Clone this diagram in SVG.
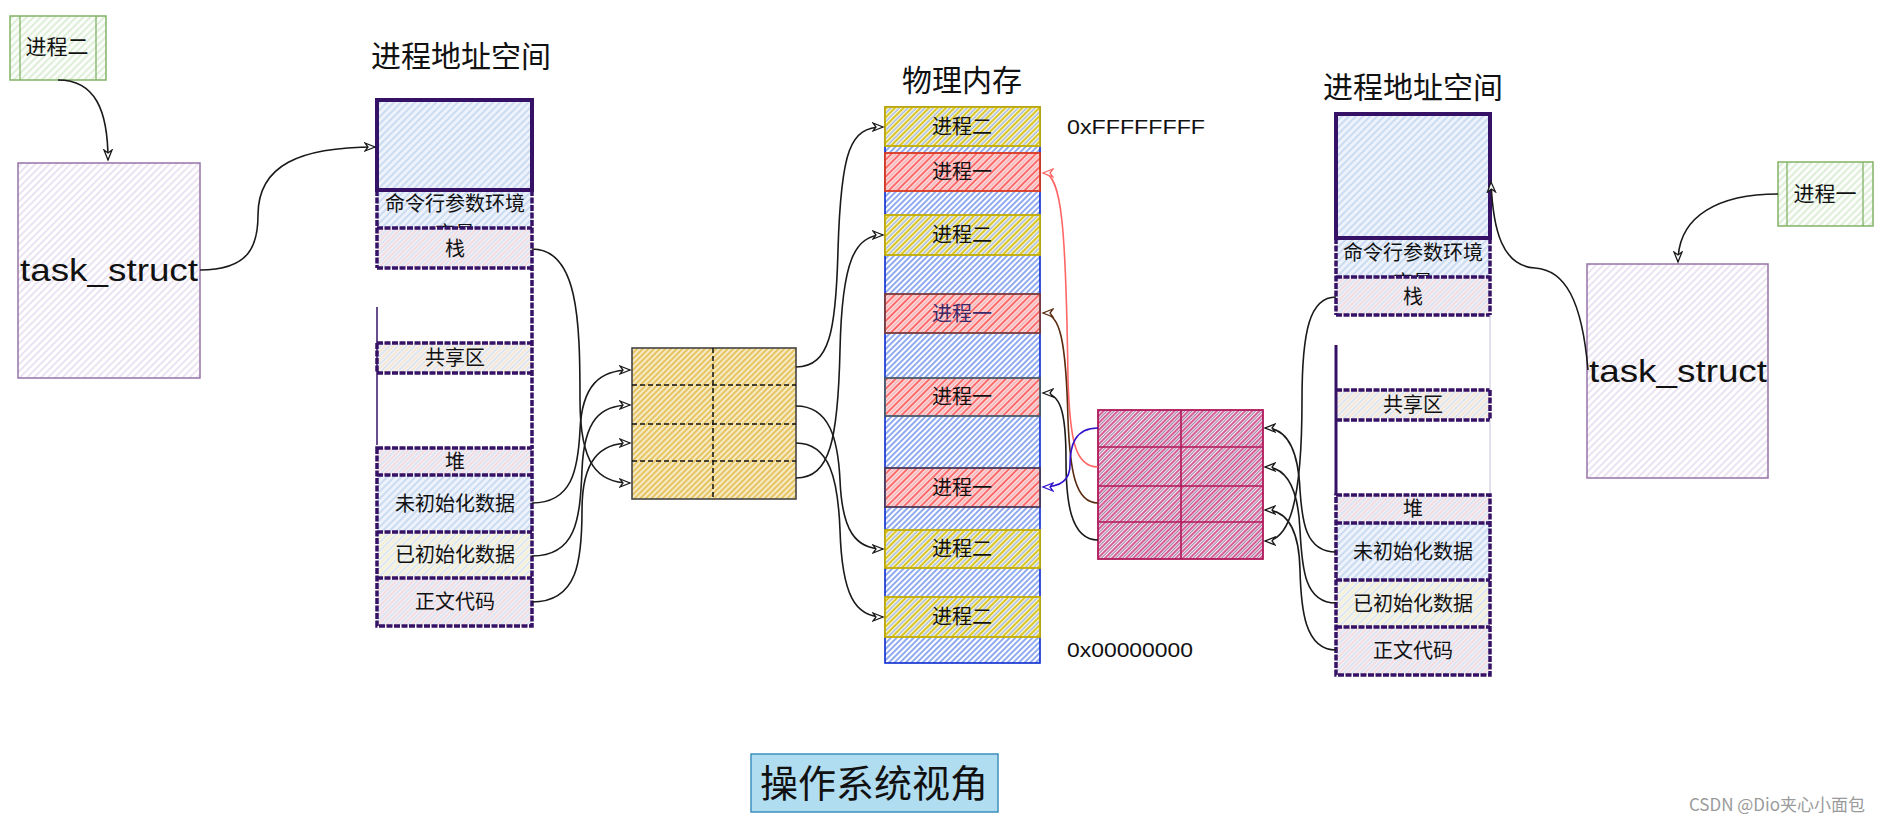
<svg xmlns="http://www.w3.org/2000/svg" width="1882" height="822" viewBox="0 0 1882 822">
<defs>
<style>
.cjk{font-family:"Noto Sans CJK SC","Noto Sans",sans-serif;fill:#111;text-anchor:middle}
.lat{font-family:"Liberation Sans","DejaVu Sans",sans-serif;fill:#111}
.row{font-size:20px}
.col{stroke:#361266;stroke-width:4;fill:none}
.sep{stroke:#361266;stroke-width:3.5;stroke-dasharray:6 1.5;fill:none}
.con{fill:none;stroke:#1a1a1a;stroke-width:1.6}
.mem{font-size:20px}
</style>
<clipPath id="clipL"><rect x="377" y="190" width="155" height="38"/></clipPath>
<clipPath id="clipR"><rect x="1336" y="238" width="154" height="39"/></clipPath>
<pattern id="hMem" patternUnits="userSpaceOnUse" width="4" height="4" patternTransform="rotate(45)">
<rect width="4" height="4" fill="#fff"/>
<line x1="1" y1="0" x2="1" y2="4" stroke="#3565e0" stroke-width="1.1"/>
</pattern>
<pattern id="hYel" patternUnits="userSpaceOnUse" width="6" height="6" patternTransform="rotate(45)">
<rect width="6" height="6" fill="#fdfae6"/>
<line x1="1.2" y1="0" x2="1.2" y2="6" stroke="#d4bf10" stroke-width="1.9"/>
<line x1="4.2" y1="0" x2="4.2" y2="6" stroke="#6a8ede" stroke-width="0.9"/>
</pattern>
<pattern id="hRed" patternUnits="userSpaceOnUse" width="6" height="6" patternTransform="rotate(45)">
<rect width="6" height="6" fill="#fde8e8"/>
<line x1="1.2" y1="0" x2="1.2" y2="6" stroke="#ff5a5a" stroke-width="1.9"/>
<line x1="4.2" y1="0" x2="4.2" y2="6" stroke="#e88a96" stroke-width="0.9"/>
</pattern>
<pattern id="hPink" patternUnits="userSpaceOnUse" width="5" height="5" patternTransform="rotate(45)">
<rect width="5" height="5" fill="#fbf0f5"/>
<line x1="1" y1="0" x2="1" y2="5" stroke="#c8206a" stroke-width="1.4"/>
<line x1="3.4" y1="0" x2="3.4" y2="5" stroke="#9a7aa6" stroke-width="1.1"/>
</pattern>
<pattern id="hGold" patternUnits="userSpaceOnUse" width="4" height="4" patternTransform="rotate(45)">
<rect width="4" height="4" fill="#f8efd0"/>
<line x1="1.2" y1="0" x2="1.2" y2="4" stroke="#e4c058" stroke-width="2"/>
</pattern>
<pattern id="hLav" patternUnits="userSpaceOnUse" width="5" height="5" patternTransform="rotate(45)">
<rect width="5" height="5" fill="#fff"/>
<line x1="1" y1="0" x2="1" y2="5" stroke="#e0d4ea" stroke-width="1.3"/>
</pattern>
<pattern id="hGrn" patternUnits="userSpaceOnUse" width="5" height="5" patternTransform="rotate(45)">
<rect width="5" height="5" fill="#fbfdfa"/>
<line x1="1" y1="0" x2="1" y2="5" stroke="#cfe6c7" stroke-width="1.3"/>
</pattern>
<pattern id="hBlu" patternUnits="userSpaceOnUse" width="5" height="5" patternTransform="rotate(45)">
<rect width="5" height="5" fill="#eef3fb"/>
<line x1="1" y1="0" x2="1" y2="5" stroke="#c3d6f0" stroke-width="1.6"/>
</pattern>
<pattern id="hMix" patternUnits="userSpaceOnUse" width="6" height="6" patternTransform="rotate(45)">
<rect width="6" height="6" fill="#f6f2f5"/>
<line x1="1" y1="0" x2="1" y2="6" stroke="#f2d2da" stroke-width="1.4"/>
<line x1="4" y1="0" x2="4" y2="6" stroke="#d2dff2" stroke-width="1.4"/>
</pattern>
<pattern id="hPch" patternUnits="userSpaceOnUse" width="6" height="6" patternTransform="rotate(45)">
<rect width="6" height="6" fill="#f7f5f1"/>
<line x1="1" y1="0" x2="1" y2="6" stroke="#f5e0cc" stroke-width="1.4"/>
<line x1="4" y1="0" x2="4" y2="6" stroke="#d2dff2" stroke-width="1.4"/>
</pattern>
<pattern id="hYB" patternUnits="userSpaceOnUse" width="6" height="6" patternTransform="rotate(45)">
<rect width="6" height="6" fill="#f7f7f0"/>
<line x1="1" y1="0" x2="1" y2="6" stroke="#f3ecc8" stroke-width="1.4"/>
<line x1="4" y1="0" x2="4" y2="6" stroke="#d2dff2" stroke-width="1.4"/>
</pattern>
<marker id="aK" markerUnits="userSpaceOnUse" markerWidth="14" markerHeight="12" refX="11" refY="5" orient="auto">
<path d="M1,1 L11,5 L1,9 L4,5 Z" fill="#fff" stroke="#1a1a1a" stroke-width="1.3"/>
</marker>
<marker id="aR" markerUnits="userSpaceOnUse" markerWidth="14" markerHeight="12" refX="11" refY="5" orient="auto">
<path d="M1,1 L11,5 L1,9 L4,5 Z" fill="#fff" stroke="#ff6666" stroke-width="1.3"/>
</marker>
<marker id="aB" markerUnits="userSpaceOnUse" markerWidth="14" markerHeight="12" refX="11" refY="5" orient="auto">
<path d="M1,1 L11,5 L1,9 L4,5 Z" fill="#fff" stroke="#5a2a10" stroke-width="1.3"/>
</marker>
<marker id="aU" markerUnits="userSpaceOnUse" markerWidth="14" markerHeight="12" refX="11" refY="5" orient="auto">
<path d="M1,1 L11,5 L1,9 L4,5 Z" fill="#fff" stroke="#3311cc" stroke-width="1.3"/>
</marker>
</defs>

<rect width="1882" height="822" fill="#fff"/>

<!-- Left side -->
<g id="proc2-label">
<rect x="10" y="16" width="96" height="64" fill="url(#hGrn)" stroke="#82b366" stroke-width="1.5"/>
<line x1="20" y1="16" x2="20" y2="80" stroke="#82b366" stroke-width="1.3"/>
<line x1="96" y1="16" x2="96" y2="80" stroke="#82b366" stroke-width="1.3"/>
<text class="cjk" x="57" y="54" font-size="21">进程二</text>
</g>

<g id="task-struct-left">
<rect x="18" y="163" width="182" height="215" fill="url(#hLav)" stroke="#9673a6" stroke-width="1.5"/>
<text class="lat" x="20" y="281" font-size="32" textLength="178" lengthAdjust="spacingAndGlyphs">task_struct</text>
</g>

<g id="addr-left">
<text class="cjk" x="461" y="67" font-size="30">进程地址空间</text>
<rect x="377" y="100" width="155" height="90" fill="url(#hBlu)"/>
<rect x="377" y="190" width="155" height="38" fill="url(#hBlu)"/>
<text class="cjk row" clip-path="url(#clipL)"><tspan x="455" y="211">命令行参数环境</tspan><tspan x="455" y="241">变量</tspan></text>
<rect x="377" y="228" width="155" height="40" fill="url(#hMix)"/>
<text class="cjk row" x="455" y="256">栈</text>
<rect x="377" y="343" width="155" height="30" fill="url(#hPch)"/>
<text class="cjk row" x="455" y="365">共享区</text>
<rect x="377" y="448" width="155" height="27" fill="url(#hMix)"/>
<text class="cjk row" x="455" y="469">堆</text>
<rect x="377" y="475" width="155" height="57" fill="url(#hBlu)"/>
<text class="cjk row" x="455" y="511">未初始化数据</text>
<rect x="377" y="532" width="155" height="46" fill="url(#hYB)"/>
<text class="cjk row" x="455" y="562">已初始化数据</text>
<rect x="377" y="578" width="155" height="48" fill="url(#hMix)"/>
<text class="cjk row" x="455" y="609">正文代码</text>
<path class="col" d="M377,190 V100 H532 V190 Z"/>
<path class="sep" d="M377,190 V268 M532,190 V448 M377,228 H532 M377,268 H532"/>
<path class="sep" d="M377,343 H532 M377,373 H532 M377,343 V373"/>
<path d="M377,307 V445" stroke="#361266" stroke-width="1.5" fill="none"/>
<path class="sep" d="M377,448 H532 V626 H377 Z M377,475 H532 M377,532 H532 M377,578 H532"/>
</g>

<g id="page-table-left">
<rect x="632" y="348" width="164" height="151" fill="url(#hGold)" stroke="#444" stroke-width="1.6"/>
<path d="M632,385 H796 M632,424 H796 M632,461 H796 M713,348 V499" stroke="#111" stroke-width="1.5" stroke-dasharray="5 3" fill="none"/>
</g>

<!-- Physical memory -->
<g id="phys-mem">
<text class="cjk" x="962" y="91" font-size="30">物理内存</text>
<rect x="885" y="107" width="155" height="556" fill="url(#hMem)" stroke="#0a2bd0" stroke-width="1.6"/>
<text class="lat" x="1067" y="134" font-size="20" textLength="138" lengthAdjust="spacingAndGlyphs">0xFFFFFFFF</text>
<text class="lat" x="1067" y="657" font-size="20" textLength="126" lengthAdjust="spacingAndGlyphs">0x00000000</text>
</g>
<g id="mem-p2-a"><rect x="885" y="107" width="155" height="39" fill="url(#hYel)" stroke="#c4ad00" stroke-width="1.8"/><text class="cjk mem" x="962" y="134">进程二</text></g>
<g id="mem-p1-a"><rect x="885" y="153" width="155" height="38" fill="url(#hRed)" stroke="#d9381e" stroke-width="1.8"/><text class="cjk mem" x="962" y="179">进程一</text></g>
<g id="mem-p2-b"><rect x="885" y="215" width="155" height="40" fill="url(#hYel)" stroke="#c4ad00" stroke-width="1.8"/><text class="cjk mem" x="962" y="242">进程二</text></g>
<g id="mem-p1-b"><rect x="885" y="294" width="155" height="39" fill="url(#hRed)" stroke="#7a3a3a" stroke-width="1.8"/><text class="cjk mem" x="962" y="321" style="fill:#3a2a6a">进程一</text></g>
<g id="mem-p1-c"><rect x="885" y="378" width="155" height="38" fill="url(#hRed)" stroke="#4a5a6a" stroke-width="1.8"/><text class="cjk mem" x="962" y="404">进程一</text></g>
<g id="mem-p1-d"><rect x="885" y="468" width="155" height="39" fill="url(#hRed)" stroke="#4a3a5a" stroke-width="1.8"/><text class="cjk mem" x="962" y="495">进程一</text></g>
<g id="mem-p2-c"><rect x="885" y="530" width="155" height="38" fill="url(#hYel)" stroke="#c4ad00" stroke-width="1.8"/><text class="cjk mem" x="962" y="556">进程二</text></g>
<g id="mem-p2-d"><rect x="885" y="597" width="155" height="40" fill="url(#hYel)" stroke="#c4ad00" stroke-width="1.8"/><text class="cjk mem" x="962" y="624">进程二</text></g>

<!-- Right side -->
<g id="page-table-right">
<rect x="1098" y="410" width="165" height="149" fill="url(#hPink)" stroke="#b0185a" stroke-width="1.8"/>
<path d="M1098,447 H1263 M1098,486 H1263 M1098,522 H1263 M1181,410 V559" stroke="#b0185a" stroke-width="1.6" fill="none"/>
</g>

<g id="addr-right">
<text class="cjk" x="1413" y="98" font-size="30">进程地址空间</text>
<rect x="1336" y="114" width="154" height="124" fill="url(#hBlu)"/>
<rect x="1336" y="238" width="154" height="39" fill="url(#hBlu)"/>
<text class="cjk row" clip-path="url(#clipR)"><tspan x="1413" y="260">命令行参数环境</tspan><tspan x="1413" y="290">变量</tspan></text>
<rect x="1336" y="277" width="154" height="38" fill="url(#hMix)"/>
<text class="cjk row" x="1413" y="304">栈</text>
<rect x="1336" y="390" width="154" height="30" fill="url(#hPch)"/>
<text class="cjk row" x="1413" y="412">共享区</text>
<rect x="1336" y="495" width="154" height="28" fill="url(#hMix)"/>
<text class="cjk row" x="1413" y="516">堆</text>
<rect x="1336" y="523" width="154" height="57" fill="url(#hBlu)"/>
<text class="cjk row" x="1413" y="559">未初始化数据</text>
<rect x="1336" y="580" width="154" height="47" fill="url(#hYB)"/>
<text class="cjk row" x="1413" y="611">已初始化数据</text>
<rect x="1336" y="627" width="154" height="48" fill="url(#hMix)"/>
<text class="cjk row" x="1413" y="658">正文代码</text>
<path class="col" d="M1336,238 V114 H1490 V238 Z"/>
<path class="sep" d="M1336,238 V315 M1490,238 V315 M1336,277 H1490 M1336,315 H1490"/>
<path class="sep" d="M1336,390 H1490 M1336,420 H1490 M1490,390 V420"/>
<path d="M1336,345 V495" stroke="#361266" stroke-width="3" fill="none"/>
<path d="M1490,315 V390 M1490,420 V495" stroke="#c9c0da" stroke-width="1" fill="none"/>
<path class="sep" d="M1336,495 H1490 V675 H1336 Z M1336,523 H1490 M1336,580 H1490 M1336,627 H1490"/>
</g>

<g id="task-struct-right">
<rect x="1587" y="264" width="181" height="214" fill="url(#hLav)" stroke="#9673a6" stroke-width="1.5"/>
<text class="lat" x="1589" y="382" font-size="32" textLength="178" lengthAdjust="spacingAndGlyphs">task_struct</text>
</g>

<g id="proc1-label">
<rect x="1778" y="162" width="95" height="64" fill="url(#hGrn)" stroke="#82b366" stroke-width="1.5"/>
<line x1="1787" y1="162" x2="1787" y2="226" stroke="#82b366" stroke-width="1.3"/>
<line x1="1863" y1="162" x2="1863" y2="226" stroke="#82b366" stroke-width="1.3"/>
<text class="cjk" x="1825" y="201" font-size="21">进程一</text>
</g>

<g id="os-view">
<rect x="751" y="754" width="247" height="58" fill="#b1ddf0" stroke="#3c8fbf" stroke-width="1.5"/>
<text class="cjk" x="874" y="797" font-size="38">操作系统视角</text>
</g>

<text x="1865" y="811" font-family="'Liberation Sans Narrow','Noto Sans CJK SC',sans-serif" font-size="17" fill="#9a9a9a" text-anchor="end">CSDN @Dio夹心小面包</text>

<!-- Connectors -->
<g id="connectors">
<path class="con" marker-end="url(#aK)" d="M58,80 C95,80 108,110 108,160"/>
<path class="con" marker-end="url(#aK)" d="M200,270 C250,270 258,245 258,215 C258,165 300,147 375,147"/>
<path class="con" marker-end="url(#aK)" d="M532,249 C578,249 580,320 580,400 C580,465 598,483 630,483"/>
<path class="con" marker-end="url(#aK)" d="M532,503 C572,503 578,470 580,430 C582,385 600,370 630,370"/>
<path class="con" marker-end="url(#aK)" d="M532,556 C576,556 580,520 582,470 C584,420 600,405 630,405"/>
<path class="con" marker-end="url(#aK)" d="M532,602 C578,602 582,560 582,510 C582,460 600,443 630,443"/>
<path class="con" marker-end="url(#aK)" d="M796,367 C830,367 836,330 838,250 C841,150 850,127 883,127"/>
<path class="con" marker-end="url(#aK)" d="M796,478 C830,478 838,440 840,350 C842,260 855,235 883,235"/>
<path class="con" marker-end="url(#aK)" d="M796,406 C830,406 838,440 840,480 C842,530 855,549 883,549"/>
<path class="con" marker-end="url(#aK)" d="M796,443 C830,443 838,480 840,530 C842,595 855,617 883,617"/>
<path class="con" marker-end="url(#aR)" style="stroke:#ff6666" d="M1098,467 C1075,467 1070,440 1068,380 C1066,230 1062,173 1043,173"/>
<path class="con" marker-end="url(#aB)" style="stroke:#5a2a10" d="M1098,503 C1075,503 1070,470 1068,420 C1066,340 1060,313 1043,313"/>
<path class="con" marker-end="url(#aK)" d="M1098,540 C1070,540 1066,500 1066,460 C1066,410 1060,393 1043,393"/>
<path class="con" marker-end="url(#aU)" style="stroke:#3311cc" d="M1098,428 C1075,428 1070,445 1070,465 C1070,480 1060,487 1043,487"/>
<path class="con" marker-end="url(#aK)" d="M1336,297 C1310,297 1302,330 1302,400 C1302,500 1290,541 1265,541"/>
<path class="con" marker-end="url(#aK)" d="M1336,552 C1305,552 1302,520 1300,490 C1298,445 1285,428 1265,428"/>
<path class="con" marker-end="url(#aK)" d="M1336,603 C1305,603 1302,570 1300,530 C1298,485 1285,467 1265,467"/>
<path class="con" marker-end="url(#aK)" d="M1336,650 C1305,650 1301,610 1300,570 C1299,525 1285,510 1265,510"/>
<path class="con" marker-end="url(#aK)" d="M1778,194 C1720,194 1678,215 1678,262"/>
<path class="con" marker-end="url(#aK)" d="M1588,370 C1582,300 1565,270 1535,268 C1502,266 1493,230 1491,182"/>
</g>
</svg>
